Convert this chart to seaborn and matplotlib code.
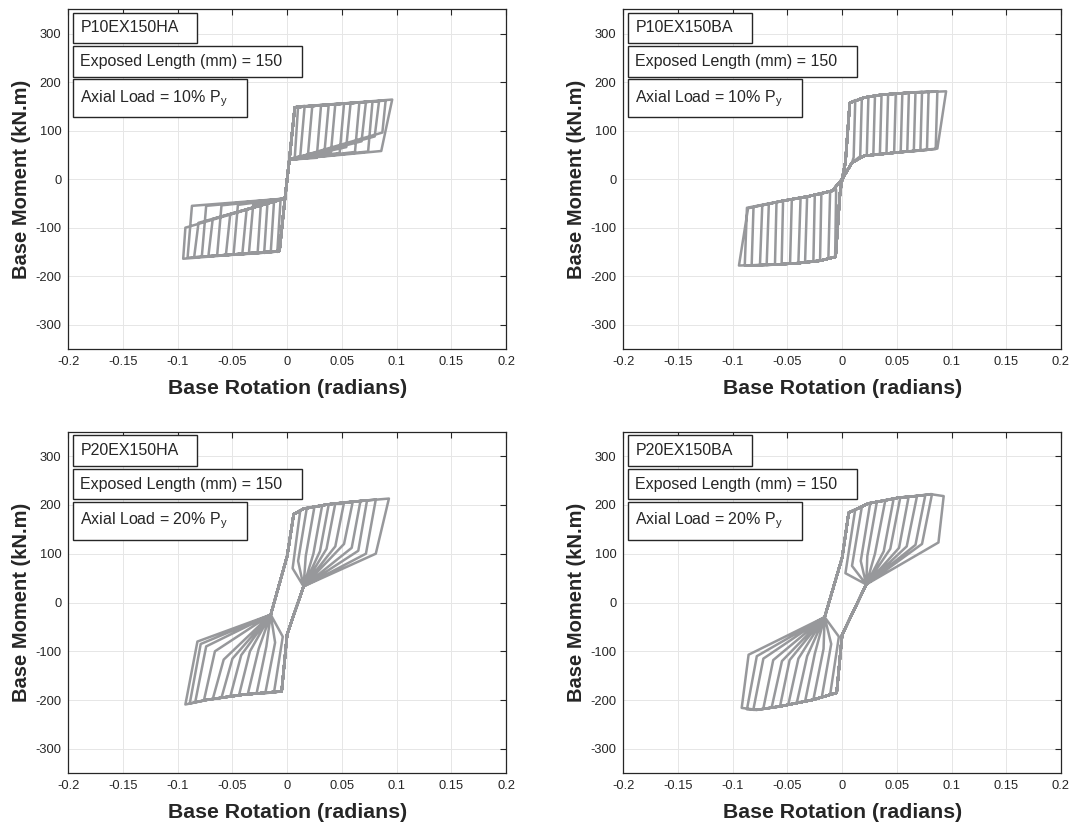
import matplotlib
matplotlib.use("Agg")
import matplotlib.pyplot as plt
from matplotlib.patches import Rectangle
import pandas as pd
import seaborn as sns

# panel text
specimens = ["P10EX150HA", "P10EX150BA", "P20EX150HA", "P20EX150BA"]
exposed_len = [150, 150, 150, 150]
axial_pct = [10, 10, 20, 20]

xticks = [-0.2, -0.15, -0.1, -0.05, 0, 0.05, 0.1, 0.15, 0.2]
xticklabels = ["-0.2", "-0.15", "-0.1", "-0.05", "0", "0.05", "0.1", "0.15", "0.2"]
yticks = [-300, -200, -100, 0, 100, 200, 300]

# Loops are read off the picture as turning points (rotation, moment):
#   *_env : loading branch points (from pinch up to the envelope)
#   *_cyc : per cycle (peak rot, peak moment, unload rot, unload moment)
#   *_ret : points on the return branch towards the pinch

# P10EX150HA
ha10_pos_env = [(-0.002, -40), (0.002, 40), (0.007, 148)]
ha10_pos_cyc = [(0.010, 150, 0.007, 45), (0.016, 151, 0.012, 48), (0.023, 152, 0.019, 50),
                (0.031, 153, 0.027, 44), (0.038, 154, 0.034, 53), (0.044, 155, 0.040, 55),
                (0.052, 156, 0.048, 54), (0.058, 157, 0.054, 66), (0.066, 158, 0.062, 56),
                (0.072, 159, 0.068, 78), (0.078, 160, 0.074, 57), (0.084, 161, 0.080, 88),
                (0.090, 162, 0.087, 96), (0.096, 164, 0.086, 58)]
ha10_pos_ret = []
ha10_neg_env = [(0.002, 40), (-0.002, -40), (-0.007, -148)]
ha10_neg_cyc = [(-0.009, -150, -0.006, -42), (-0.015, -151, -0.012, -46), (-0.021, -152, -0.018, -50),
                (-0.027, -153, -0.024, -50), (-0.035, -154, -0.031, -52), (-0.041, -155, -0.037, -62),
                (-0.049, -156, -0.045, -53), (-0.056, -157, -0.052, -72), (-0.064, -158, -0.060, -54),
                (-0.072, -159, -0.068, -82), (-0.078, -160, -0.074, -55), (-0.085, -161, -0.081, -90),
                (-0.091, -162, -0.087, -55), (-0.095, -164, -0.093, -100)]
ha10_neg_ret = []

# P10EX150BA
ba10_pos_env = [(-0.009, -24), (0.0, 0), (0.003, 35), (0.007, 157), (0.02, 168), (0.036, 174), (0.06, 178)]
ba10_pos_cyc = [(0.012, 163, 0.0105, 45), (0.018, 167, 0.0165, 47), (0.024, 170, 0.0225, 49),
                (0.030, 172, 0.0285, 50), (0.036, 174, 0.0345, 52), (0.042, 175, 0.0405, 53),
                (0.049, 176, 0.0475, 54), (0.055, 177, 0.0535, 56), (0.061, 178, 0.0595, 57),
                (0.067, 179, 0.0655, 58), (0.073, 180, 0.0715, 59), (0.079, 180, 0.0775, 60),
                (0.087, 181, 0.0855, 62), (0.095, 181, 0.087, 63)]
ba10_pos_ret = [(0.05, 55), (0.02, 48)]
ba10_neg_env = [(0.009, 34), (0.0, 0), (-0.002, -30), (-0.006, -160), (-0.02, -168), (-0.04, -173), (-0.06, -176)]
ba10_neg_cyc = [(-0.0064, -158, -0.0055, -22), (-0.0126, -164, -0.011, -26), (-0.0202, -168, -0.019, -30),
                (-0.0263, -170, -0.025, -33), (-0.0339, -172, -0.032, -36), (-0.040, -173, -0.038, -39),
                (-0.0476, -174, -0.046, -42), (-0.0553, -175, -0.054, -45), (-0.0614, -176, -0.060, -48),
                (-0.069, -177, -0.067, -51), (-0.0751, -177, -0.073, -54), (-0.0827, -178, -0.081, -57),
                (-0.089, -178, -0.087, -59), (-0.0943, -178, -0.086, -60)]
ba10_neg_ret = [(-0.055, -45), (-0.03, -35)]

# P20EX150HA
ha20_pos_env = [(-0.015, -25), (0.0, 95), (0.006, 181), (0.015, 192), (0.037, 201), (0.067, 208)]
ha20_pos_cyc = [(0.012, 189, 0.005, 70), (0.018, 194, 0.010, 85), (0.025, 197, 0.017, 95),
                (0.032, 199, 0.024, 100), (0.038, 201, 0.030, 105), (0.044, 203, 0.036, 110),
                (0.052, 205, 0.044, 115), (0.060, 207, 0.052, 120), (0.067, 208, 0.059, 112),
                (0.073, 209, 0.065, 106), (0.081, 211, 0.072, 100), (0.093, 213, 0.081, 100)]
ha20_pos_ret = []
ha20_neg_env = [(0.015, 33), (0.0, -65), (-0.005, -182), (-0.041, -189), (-0.072, -199)]
ha20_neg_cyc = [(-0.012, -184, -0.004, -70), (-0.020, -186, -0.011, -82), (-0.028, -187, -0.019, -90),
                (-0.036, -188, -0.026, -95), (-0.044, -190, -0.034, -100), (-0.052, -193, -0.042, -108),
                (-0.060, -195, -0.050, -115), (-0.068, -198, -0.058, -117), (-0.076, -200, -0.066, -100),
                (-0.084, -204, -0.074, -90), (-0.089, -207, -0.079, -85), (-0.093, -209, -0.082, -80)]
ha20_neg_ret = []

# P20EX150BA
ba20_pos_env = [(-0.016, -30), (0.0, 92), (0.006, 184), (0.024, 203), (0.036, 208), (0.052, 215),
                (0.067, 218), (0.081, 222)]
ba20_pos_cyc = [(0.0119, 190, 0.003, 60), (0.018, 196, 0.009, 75), (0.0256, 203, 0.017, 85),
                (0.0317, 206, 0.023, 95), (0.0394, 209, 0.030, 100), (0.047, 212, 0.038, 105),
                (0.0531, 215, 0.044, 110), (0.0607, 216, 0.052, 112), (0.0684, 218, 0.059, 115),
                (0.076, 220, 0.067, 118), (0.0821, 222, 0.073, 120), (0.0928, 218, 0.088, 123)]
ba20_pos_ret = []
ba20_neg_env = [(0.022, 37), (0.0, -66), (-0.005, -185), (-0.026, -199), (-0.057, -213), (-0.078, -220)]
ba20_neg_cyc = [(-0.011, -189, -0.003, -70), (-0.0186, -194, -0.010, -85), (-0.0263, -199, -0.017, -95),
                (-0.0339, -203, -0.025, -105), (-0.0415, -206, -0.032, -110), (-0.0492, -209, -0.040, -115),
                (-0.0568, -213, -0.048, -118), (-0.0644, -215, -0.055, -120), (-0.0721, -218, -0.063, -118),
                (-0.0812, -220, -0.072, -115), (-0.0870, -219, -0.078, -110), (-0.0918, -216, -0.0855, -107)]
ba20_neg_ret = []

panels = [
    (ha10_pos_env, ha10_pos_cyc, ha10_pos_ret, ha10_neg_env, ha10_neg_cyc, ha10_neg_ret),
    (ba10_pos_env, ba10_pos_cyc, ba10_pos_ret, ba10_neg_env, ba10_neg_cyc, ba10_neg_ret),
    (ha20_pos_env, ha20_pos_cyc, ha20_pos_ret, ha20_neg_env, ha20_neg_cyc, ha20_neg_ret),
    (ba20_pos_env, ba20_pos_cyc, ba20_pos_ret, ba20_neg_env, ba20_neg_cyc, ba20_neg_ret),
]


def loop_path(pos_env, pos_cyc, pos_ret, neg_env, neg_cyc, neg_ret):
    # chain the read turning points cycle by cycle
    pts = []
    for (tp, mp, bpr, bp), (tn, mn, bnr, bn) in zip(pos_cyc, neg_cyc):
        pts += [p for p in pos_env if p[0] < tp]
        pts += [(tp, mp), (bpr, bp)]
        pts += [p for p in pos_ret if p[0] < bpr]
        pts += [p for p in neg_env if p[0] > tn]
        pts += [(tn, mn), (bnr, bn)]
        pts += [p for p in neg_ret if p[0] > bnr]
    pts.append(pos_env[0])
    return pd.DataFrame(pts, columns=["rotation", "moment"])


sns.set_style("white")
plt.rcParams['font.family'] = ['Liberation Sans', 'DejaVu Sans']
plt.rcParams['mathtext.fontset'] = 'custom'
plt.rcParams['mathtext.rm'] = 'Liberation Sans'
plt.rcParams['axes.unicode_minus'] = False

fig = plt.figure(figsize=(10.75, 8.26), dpi=100)
W, H = 1075, 826
# axes boxes in pixels: left, top, right, bottom
boxes = [(68.3, 9.3, 506, 349), (623.3, 9.3, 1061, 349),
         (68.3, 431.7, 506, 773.3), (623.3, 431.7, 1061, 773.3)]

line_col = "#97989b"
edge = "#262626"

for i, (l, t, r, b) in enumerate(boxes):
    ax = fig.add_axes([l / W, 1 - b / H, (r - l) / W, (b - t) / H])
    df = loop_path(*panels[i])
    sns.lineplot(data=df, x="rotation", y="moment", sort=False, estimator=None,
                 color=line_col, lw=1.8, ax=ax, zorder=3)
    ax.set_xlim(-0.2, 0.2)
    ax.set_ylim(-350, 350)
    ax.set_xticks(xticks)
    ax.set_xticklabels(xticklabels)
    ax.set_yticks(yticks)
    ax.grid(True, color="#e6e6e6", lw=0.7)
    ax.tick_params(direction="in", length=4, width=0.8, top=True, right=True,
                   labelsize=9.3, colors=edge, pad=5)
    for s in ax.spines.values():
        s.set_color(edge)
        s.set_linewidth(0.9)
    ax.set_xlabel("Base Rotation (radians)", fontsize=15.3, fontweight="bold", color=edge, labelpad=8)
    ax.set_ylabel("Base Moment (kN.m)", fontsize=14.5, fontweight="bold", color=edge, labelpad=3)

    # annotation boxes (MATLAB style)
    labels = [specimens[i],
              f"Exposed Length (mm) = {exposed_len[i]}",
              f"Axial Load = {axial_pct[i]}% P$_\\mathregular{{y}}$"]
    rects = [(0.0114, 0.900, 0.2833, 0.090),
             (0.0114, 0.8016, 0.5232, 0.0904),
             (0.0114, 0.682, 0.3962, 0.112)]
    for txt, (rx, ry, rw, rh) in zip(labels, rects):
        ax.add_patch(Rectangle((rx, ry), rw, rh, transform=ax.transAxes, fill=True,
                               facecolor="white", edgecolor=edge, lw=1.0, zorder=5))
        ax.text(rx + 0.016, ry + rh / 2, txt, transform=ax.transAxes, fontsize=11.5,
                va="center", ha="left", color=edge, zorder=6)

fig.savefig("out.png", dpi=100)
